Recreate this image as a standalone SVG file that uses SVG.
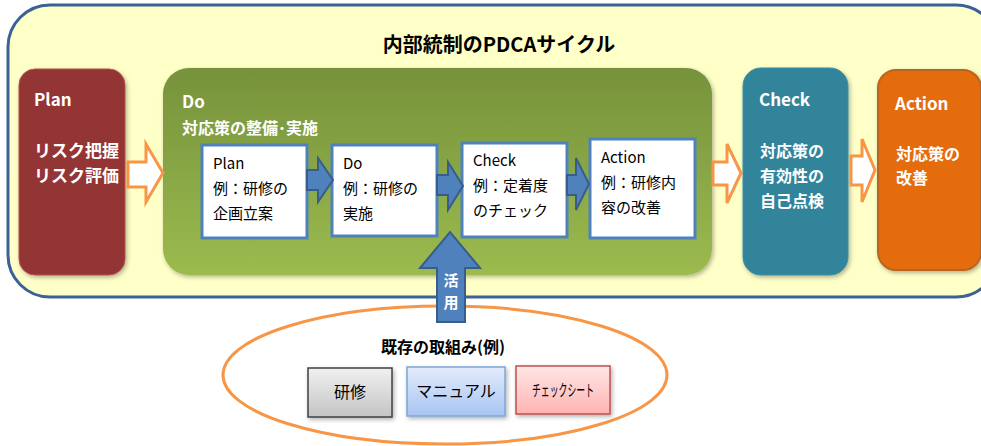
<svg xmlns="http://www.w3.org/2000/svg" width="981" height="446" viewBox="0 0 981 446">
<defs>
<linearGradient id="gDo" x1="0" y1="0" x2="0" y2="1"><stop offset="0" stop-color="#76923b"/><stop offset="1" stop-color="#9bbb4f"/></linearGradient>
<linearGradient id="gGray" x1="0" y1="0" x2="0" y2="1"><stop offset="0" stop-color="#f0f0f0"/><stop offset="1" stop-color="#c4c4c4"/></linearGradient>
<linearGradient id="gBlue" x1="0" y1="0" x2="0" y2="1"><stop offset="0" stop-color="#e3ecfb"/><stop offset="1" stop-color="#a7c4f2"/></linearGradient>
<linearGradient id="gPink" x1="0" y1="0" x2="0" y2="1"><stop offset="0" stop-color="#ffe6e6"/><stop offset="1" stop-color="#ffb3b3"/></linearGradient>
<filter id="sh" x="-10%" y="-10%" width="130%" height="130%"><feDropShadow dx="1.5" dy="2" stdDeviation="2" flood-color="#000" flood-opacity="0.3"/></filter>
</defs>
<style>
text{font-family:"Noto Sans CJK JP","Noto Sans",sans-serif;}
.hd{font-weight:bold;fill:#fff;font-size:17px;}
.wt{font-weight:bold;fill:#fff;font-size:16px;}
.bx{fill:#fff;stroke:#4f81bd;stroke-width:3;}
.bt{font-size:15px;fill:#000;}
.oa{fill:#fff;stroke:#f79646;stroke-width:3;stroke-linejoin:miter;}
.ba{fill:#4f81bd;stroke:#385d8a;stroke-width:2;}
</style>
<rect x="8" y="5" width="990" height="292" rx="42" fill="#ffffc8" stroke="#3b6296" stroke-width="3"/>
<text x="499" y="52" text-anchor="middle" font-size="20" font-weight="bold" fill="#000">内部統制のPDCAサイクル</text>

<g id="plan">
<rect x="19" y="69" width="106" height="206" rx="16" fill="#943634" stroke="#b3504d" stroke-width="1" filter="url(#sh)"/>
<text x="34" y="106" class="hd">Plan</text>
<text x="34" y="157" class="hd">リスク把握</text>
<text x="34" y="182" class="hd">リスク評価</text>
</g>

<g id="do">
<rect x="163" y="68" width="549" height="207" rx="26" fill="url(#gDo)" filter="url(#sh)"/>
<text x="182" y="108" class="hd">Do</text>
<text x="182" y="134" class="wt">対応策の整備･実施</text>
</g>

<g id="do-plan">
<rect x="202" y="145" width="105" height="93" class="bx"/>
<text x="213" y="169" class="bt">Plan</text>
<text x="213" y="194" class="bt">例：研修の</text>
<text x="213" y="219" class="bt">企画立案</text>
</g>
<g id="do-do">
<rect x="332" y="145" width="105" height="91" class="bx"/>
<text x="343" y="169" class="bt">Do</text>
<text x="343" y="194" class="bt">例：研修の</text>
<text x="343" y="219" class="bt">実施</text>
</g>
<g id="do-check">
<rect x="462" y="143" width="105" height="94" class="bx"/>
<text x="473" y="166" class="bt">Check</text>
<text x="473" y="191" class="bt">例：定着度</text>
<text x="473" y="216" class="bt">のチェック</text>
</g>
<g id="do-action">
<rect x="590" y="139" width="105" height="99" class="bx"/>
<text x="601" y="163" class="bt">Action</text>
<text x="601" y="188" class="bt">例：研修内</text>
<text x="601" y="213" class="bt">容の改善</text>
</g>

<g id="check">
<rect x="743" y="68" width="105" height="207" rx="18" fill="#31849b" stroke="#3a8ea6" stroke-width="1" filter="url(#sh)"/>
<text x="759" y="106" class="hd">Check</text>
<text x="760" y="157" class="wt">対応策の</text>
<text x="760" y="182" class="wt">有効性の</text>
<text x="760" y="207" class="wt">自己点検</text>
</g>

<g id="action">
<rect x="878" y="70" width="103" height="200" rx="18" fill="#e46c0a" stroke="#b86522" stroke-width="2" filter="url(#sh)"/>
<text x="895" y="110" class="hd">Action</text>
<text x="896" y="160" class="wt">対応策の</text>
<text x="896" y="184" class="wt">改善</text>
</g>

<g id="existing">
<ellipse cx="445" cy="375" rx="222" ry="69" fill="none" stroke="#f79646" stroke-width="3"/>
<text x="443" y="353" text-anchor="middle" font-size="16" font-weight="bold" fill="#000">既存の取組み(例)</text>
<g id="ex-kenshu">
<rect x="308" y="368" width="84" height="49" fill="url(#gGray)" stroke="#404040" stroke-width="1.5" filter="url(#sh)"/>
<text x="350" y="398" text-anchor="middle" font-size="16" fill="#000">研修</text>
</g>
<g id="ex-manual">
<rect x="407" y="367" width="98" height="49" fill="url(#gBlue)" stroke="#7fa4d6" stroke-width="1.5" filter="url(#sh)"/>
<text x="456" y="397" text-anchor="middle" font-size="16" fill="#000">マニュアル</text>
</g>
<g id="ex-check">
<rect x="516" y="366" width="94" height="48" fill="url(#gPink)" stroke="#c0504d" stroke-width="1.5" filter="url(#sh)"/>
<text x="563" y="396" text-anchor="middle" font-size="16" fill="#000" textLength="62" lengthAdjust="spacingAndGlyphs">チェックシート</text>
</g>
</g>

<g id="connectors">
<polygon class="oa" points="128,162 146,162 146,144 163,173 146,202 146,187 128,187"/>
<polygon class="oa" points="713,162 727,162 727,144 741,173 727,203 727,185 713,185"/>
<polygon class="oa" points="851,156 862,156 862,139 875,170 862,202 862,185 851,185"/>
<polygon class="ba" points="307,170 318,170 318,158 333,180 318,202 318,190 307,190"/>
<polygon class="ba" points="437,175 448,175 448,162 463,186 448,210 448,195 437,195"/>
<polygon class="ba" points="567,175 576,175 576,158 589,184 576,210 576,195 567,195"/>
<polygon class="ba" points="437,322 437,268 420,268 450,232 480,268 465,268 465,322"/>
<text x="451" y="286" text-anchor="middle" font-size="15" font-weight="bold" fill="#fff">活</text>
<text x="451" y="308" text-anchor="middle" font-size="15" font-weight="bold" fill="#fff">用</text>
</g>
</svg>
